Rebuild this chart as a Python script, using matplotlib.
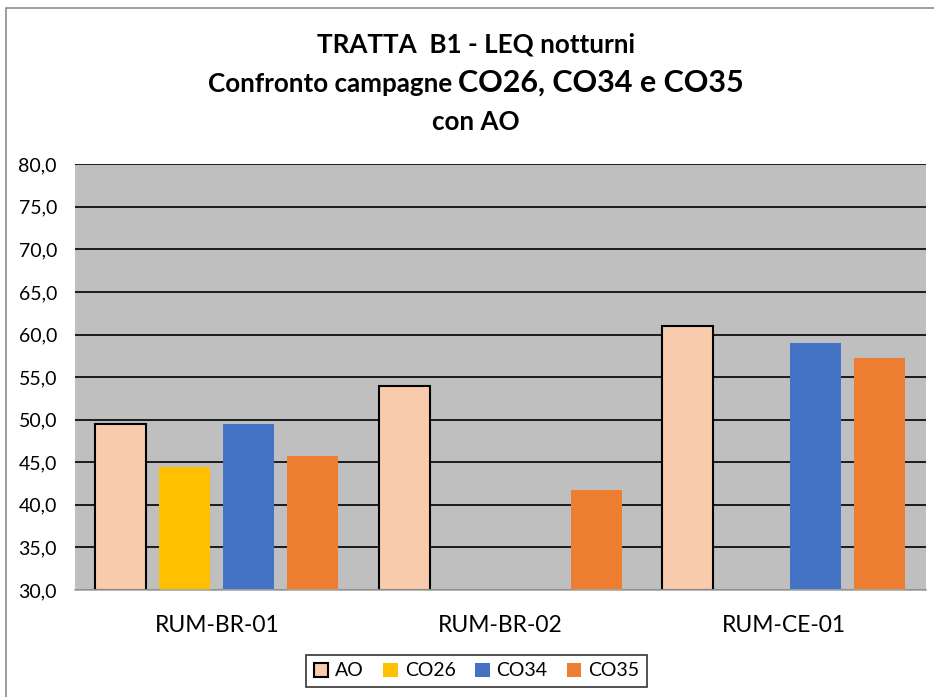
import numpy as np
import matplotlib
matplotlib.use('Agg')
import matplotlib.pyplot as plt
from matplotlib.patches import Rectangle
from matplotlib.offsetbox import TextArea, HPacker, AnchoredOffsetbox

plt.rcParams['font.family'] = ['Lato', 'DejaVu Sans']

stations = ['RUM-BR-01', 'RUM-BR-02', 'RUM-CE-01']
series = ['AO', 'CO26', 'CO34', 'CO35']
ao = [49.5, 54.0, 61.0]
co26 = [44.5, np.nan, np.nan]
co34 = [49.5, np.nan, 59.0]
co35 = [45.7, 41.7, 57.3]
yticks = np.arange(30, 81, 5)

values = [ao, co26, co34, co35]
colors = ['#F8CBAD', '#FFC000', '#4472C4', '#ED7D31']
edges = ['black', 'none', 'none', 'none']

fig = plt.figure(figsize=(9.34, 6.97), dpi=100)
fig.patches.append(Rectangle((6 / 934, -0.1), 1.2, (697 - 8) / 697 + 0.1,
                             transform=fig.transFigure, fill=False,
                             edgecolor='#8c8c8c', lw=1.2))

ax = fig.add_axes([0.0803, 0.1535, 0.991 - 0.0803, 0.7643 - 0.1535])
ax.set_facecolor('#BFBFBF')

x = np.arange(len(stations))
w = 0.18
offs = [-0.339, -0.113, 0.113, 0.339]
for vals, c, e, o, name in zip(values, colors, edges, offs, series):
    bottoms = np.array(vals) - 30
    ax.bar(x + o, bottoms, w, bottom=30, color=c, edgecolor=e,
           linewidth=1.5 if e != 'none' else 0, label=name, zorder=3)

ax.set_ylim(30, 80)
ax.set_xlim(-0.5, 2.5)
ax.set_yticks(yticks)
ax.set_yticklabels([f'{v:.1f}'.replace('.', ',') for v in yticks], fontsize=14)
ax.set_xticks(x)
ax.set_xticklabels(stations, fontsize=16.5)
ax.tick_params(axis='both', length=0)
ax.tick_params(axis='y', pad=13)
ax.tick_params(axis='x', pad=18)
ax.yaxis.grid(True, color='black', lw=1.2, zorder=1)
ax.set_axisbelow(True)
for s in ['top', 'right', 'left']:
    ax.spines[s].set_visible(False)
ax.spines['bottom'].set_color('#a6a6a6')
ax.spines['bottom'].set_linewidth(1.2)
ax.spines['bottom'].set_zorder(4)

cx = 476 / 934
fig.text(cx, 1 - 45 / 697, 'TRATTA  B1 - LEQ notturni', ha='center', va='center',
         fontsize=18.7, fontweight='bold')
fig.text(cx, 1 - 122 / 697, 'con AO', ha='center', va='center',
         fontsize=18.7, fontweight='bold')
t1 = TextArea('Confronto campagne ', textprops=dict(fontsize=18.7, fontweight='bold'))
t2 = TextArea('CO26, CO34 e CO35', textprops=dict(fontsize=22, fontweight='bold'))
box = HPacker(children=[t1, t2], align='baseline', pad=0, sep=0)
anch = AnchoredOffsetbox(loc='center', child=box, frameon=False, pad=0,
                         bbox_to_anchor=(cx, 1 - 83 / 697),
                         bbox_transform=fig.transFigure, borderpad=0)
fig.add_artist(anch)

leg = fig.legend(loc='center', bbox_to_anchor=(476.5 / 934, 1 - 671 / 697), ncol=4,
                 fontsize=14, frameon=True, fancybox=False, edgecolor='black',
                 handlelength=0.75, handleheight=0.75, columnspacing=1.0,
                 handletextpad=0.35, borderpad=0.4)
leg.get_frame().set_linewidth(1.2)

fig.savefig('out.png', dpi=100, facecolor='white')
